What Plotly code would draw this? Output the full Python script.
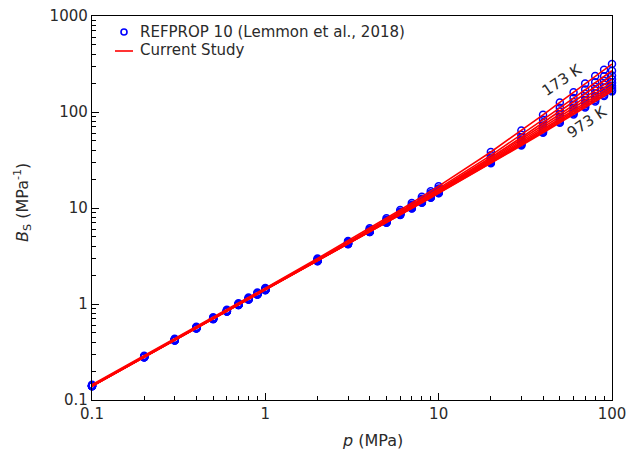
import plotly.graph_objects as go

pressure = [0.1, 0.2, 0.3, 0.4, 0.5, 0.6, 0.7, 0.8, 0.9, 1,
            2, 3, 4, 5, 6, 7, 8, 9, 10,
            20, 30, 40, 50, 60, 70, 80, 90, 100]

temperatures = ["173 K", "273 K", "373 K", "473 K", "573 K", "673 K", "773 K", "873 K", "973 K"]

bs_173 = [0.1443, 0.289, 0.4343, 0.580, 0.726, 0.873, 1.020, 1.168, 1.316, 1.465,
          2.98, 4.544, 6.159, 7.824, 9.538, 11.30, 13.12, 14.98, 16.89,
          38.33, 64.10, 93.38, 125.8, 160.7, 198.3, 237.4, 276.2, 316.0]
bs_273 = [0.1417, 0.2837, 0.4262, 0.5690, 0.7121, 0.8557, 0.9995, 1.1438, 1.2884, 1.4335,
          2.904, 4.412, 5.956, 7.537, 9.155, 10.81, 12.50, 14.23, 16.00,
          35.36, 57.94, 83.12, 110.6, 140.0, 171.3, 203.8, 236.0, 269.0]
bs_373 = [0.1406, 0.2816, 0.4228, 0.5643, 0.7061, 0.8482, 0.9906, 1.1332, 1.2762, 1.4194,
          2.868, 4.345, 5.851, 7.386, 8.950, 10.54, 12.16, 13.81, 15.49,
          33.61, 54.24, 76.90, 101.3, 127.3, 154.8, 183.1, 211.3, 240.0]
bs_473 = [0.1401, 0.2805, 0.4210, 0.5618, 0.7029, 0.8441, 0.9856, 1.1274, 1.2693, 1.4115,
          2.846, 4.303, 5.783, 7.287, 8.812, 10.36, 11.93, 13.53, 15.15,
          32.38, 51.60, 72.43, 94.69, 118.1, 142.8, 168.1, 193.3, 219.0]
bs_573 = [0.1401, 0.2804, 0.4208, 0.5614, 0.7022, 0.8432, 0.9844, 1.1258, 1.2673, 1.409,
          2.836, 4.281, 5.744, 7.225, 8.723, 10.24, 11.78, 13.33, 14.90,
          31.43, 49.53, 68.90, 89.38, 110.8, 133.2, 156.0, 178.8, 202.0]
bs_673 = [0.1398, 0.2797, 0.4197, 0.5599, 0.7003, 0.8407, 0.9813, 1.1221, 1.263, 1.404,
          2.822, 4.254, 5.70, 7.16, 8.634, 10.12, 11.62, 13.14, 14.67,
          30.62, 47.78, 65.93, 84.95, 104.7, 125.2, 146.1, 166.9, 188.0]
bs_773 = [0.1396, 0.2792, 0.4190, 0.5589, 0.6989, 0.839, 0.9792, 1.1196, 1.26, 1.4006,
          2.812, 4.235, 5.669, 7.115, 8.571, 10.04, 11.52, 13.01, 14.51,
          30.03, 46.53, 63.81, 81.78, 100.3, 119.5, 139.0, 158.4, 178.0]
bs_873 = [0.1392, 0.2786, 0.418, 0.5575, 0.6971, 0.8368, 0.9766, 1.1165, 1.2564, 1.3965,
          2.802, 4.216, 5.64, 7.072, 8.513, 9.963, 11.42, 12.89, 14.37,
          29.55, 45.5, 62.09, 79.23, 96.83, 114.9, 133.2, 151.5, 170.0]
bs_973 = [0.139, 0.2781, 0.4173, 0.5566, 0.6959, 0.8353, 0.9748, 1.1143, 1.254, 1.3936,
          2.795, 4.203, 5.618, 7.041, 8.471, 9.908, 11.35, 12.80, 14.26,
          29.19, 44.74, 60.8, 77.32, 94.2, 111.5, 129.0, 146.4, 164.0]

isotherms = [bs_173, bs_273, bs_373, bs_473, bs_573, bs_673, bs_773, bs_873, bs_973]

x_ticks = [0.1, 1, 10, 100]
x_tick_labels = ["0.1", "1", "10", "100"]
y_ticks = [0.1, 1, 10, 100, 1000]
y_tick_labels = ["0.1", "1", "10", "100", "1000"]

legend_labels = ["REFPROP 10 (Lemmon et al., 2018)", "Current Study"]

FONT = "DejaVu Sans, Liberation Sans, Arial, sans-serif"
TXT = "#2a2a2a"
BLUE = "#0000ff"
RED = "#ff0000"

# plot area sits at page px 92..612 x 16..400 (body margin removed via post_script)
W, H = 626, 460
ML, MR, MT, MB = 92, 14, 16, 60
PW, PH = W - ML - MR, H - MT - MB


def px_x(page_x):
    return (page_x - ML) / PW


def px_y(page_y):
    return (H - MB - page_y) / PH


fig = go.Figure()

for i, vals in enumerate(isotherms):
    fig.add_trace(go.Scatter(
        x=pressure, y=vals, mode="markers",
        marker=dict(symbol="circle-open", size=7, color=BLUE, line=dict(width=1.5, color=BLUE)),
        name=legend_labels[0], showlegend=False, cliponaxis=False))

for i, vals in enumerate(isotherms):
    fig.add_trace(go.Scatter(
        x=pressure, y=vals, mode="lines",
        line=dict(color=RED, width=1.6),
        name=legend_labels[1], showlegend=False))

# isotherm labels (axis coords are log10 on log axes)
fig.add_annotation(x=1.712, y=2.333, xref="x", yref="y", text="173 K", showarrow=False,
                   textangle=-34, font=dict(family=FONT, size=15, color=TXT))
fig.add_annotation(x=1.856, y=1.896, xref="x", yref="y", text="973 K", showarrow=False,
                   textangle=-34, font=dict(family=FONT, size=15, color=TXT))

# manual legend
fig.add_shape(type="circle", xref="paper", yref="paper", xsizemode="pixel", ysizemode="pixel",
              xanchor=px_x(124), yanchor=px_y(32), x0=-3, x1=3, y0=-3, y1=3,
              line=dict(color=BLUE, width=1.6))
fig.add_shape(type="line", xref="paper", yref="paper",
              x0=px_x(115), x1=px_x(133), y0=px_y(51), y1=px_y(51),
              line=dict(color=RED, width=1.6))
fig.add_annotation(x=px_x(138), y=px_y(32), xref="paper", yref="paper", text=legend_labels[0],
                   showarrow=False, xanchor="left", yanchor="middle",
                   font=dict(family=FONT, size=15, color=TXT))
fig.add_annotation(x=px_x(138), y=px_y(50), xref="paper", yref="paper", text=legend_labels[1],
                   showarrow=False, xanchor="left", yanchor="middle",
                   font=dict(family=FONT, size=15, color=TXT))

# axis titles
fig.add_annotation(x=px_x(372), y=px_y(440), xref="paper", yref="paper", text="<i>p</i> (MPa)",
                   showarrow=False, xanchor="center", yanchor="middle",
                   font=dict(family=FONT, size=16, color=TXT))
fig.add_annotation(x=px_x(22), y=px_y(203), xref="paper", yref="paper",
                   text="<i>B</i><sub>S</sub> (MPa<sup>-1</sup>)", textangle=-90,
                   showarrow=False, xanchor="center", yanchor="middle",
                   font=dict(family=FONT, size=16, color=TXT))

axis_common = dict(
    showgrid=False, zeroline=False, showline=True, linecolor="black", linewidth=1.2,
    mirror=True, ticks="inside", ticklen=7, tickwidth=1, tickcolor="black",
    tickfont=dict(family=FONT, size=15, color=TXT), automargin=False,
    ticklabeloverflow="allow",
    minor=dict(ticks="inside", ticklen=4, tickwidth=1, tickcolor="black", dtick="D1"),
)

fig.update_xaxes(type="log", range=[-1, 2], tickvals=x_ticks, ticktext=x_tick_labels, **axis_common)
fig.update_yaxes(type="log", range=[-1, 3], tickvals=y_ticks, ticktext=y_tick_labels, **axis_common)

fig.update_layout(
    width=W, height=H,
    margin=dict(l=ML, r=MR, t=MT, b=MB),
    paper_bgcolor="white", plot_bgcolor="white",
    font=dict(family=FONT, color=TXT),
    showlegend=False,
)

fig.write_html("out.html",
               config={"displayModeBar": False, "staticPlot": True},
               post_script="document.body.style.margin='0';document.body.style.overflow='hidden';")
